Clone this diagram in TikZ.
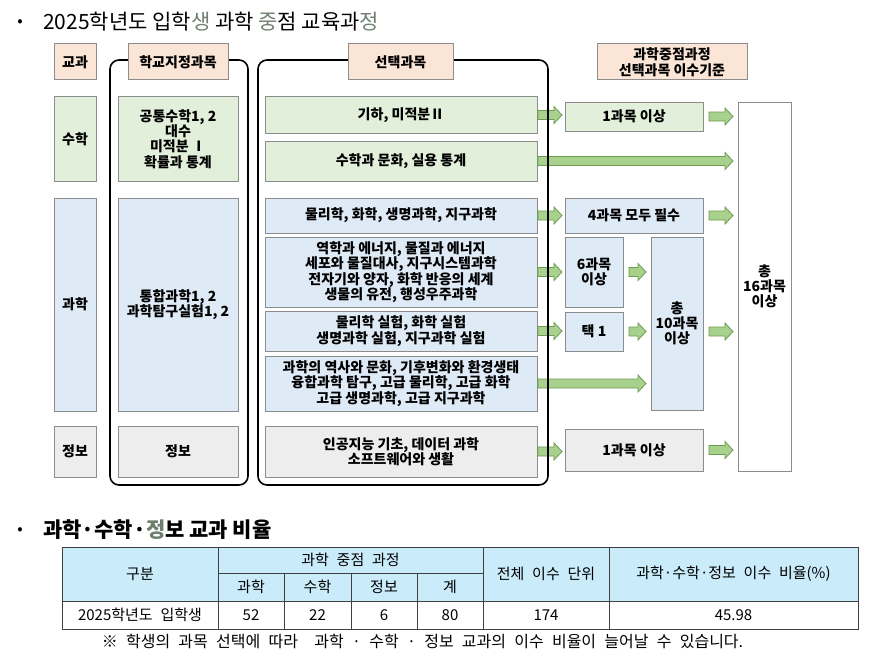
\documentclass[tikz,border=0pt]{standalone}
\usepackage{fontspec}
\setmainfont{Noto Sans CJK KR}
\newfontfamily\tblfont[WordSpace=2]{Noto Sans CJK KR}
\newfontfamily\notefont[WordSpace=2.3]{Noto Sans CJK KR}
\usetikzlibrary{calc}

\definecolor{hdrpeach}{HTML}{FBE5D6}
\definecolor{mathgreen}{HTML}{E2EFDA}
\definecolor{sciblue}{HTML}{DEEBF7}
\definecolor{infogray}{HTML}{EDEDED}
\definecolor{boxline}{HTML}{8C8C8C}
\definecolor{arrfill}{HTML}{A9D18E}
\definecolor{arrline}{HTML}{6E9B4E}
\definecolor{tblcyan}{HTML}{C9EBFA}
\definecolor{tblline}{HTML}{404040}
\definecolor{fadedtxt}{HTML}{6F7F6F}

% green block arrow, height taken from the start point
\newcommand{\grarrow}[2]{%
  \filldraw[grarrow] let \p1=(#1), \p2=(#2) in
    (\x1,\y1+4.5pt) -- (\x2-8pt,\y1+4.5pt) -- (\x2-8pt,\y1+8.5pt) -- (\x2,\y1)
    -- (\x2-8pt,\y1-8.5pt) -- (\x2-8pt,\y1-4.5pt) -- (\x1,\y1-4.5pt) -- cycle;}

\begin{document}
\begin{tikzpicture}[
    x=1pt, y=-1pt,
    font=\bfseries\fontsize{14}{15.3}\selectfont,
    box/.style={draw=boxline, line width=1pt, align=center, inner sep=1pt, outer sep=0pt},
    hdr/.style={box, fill=hdrpeach},
    mbox/.style={box, fill=mathgreen},
    sbox/.style={box, fill=sciblue},
    ibox/.style={box, fill=infogray},
    tbox/.style={box, fill=white},
    grarrow/.style={fill=arrfill, draw=arrline, line width=0.8pt},
    grpframe/.style={line width=1.6pt, rounded corners=9pt},
    cell/.style={font=\tblfont\fontsize{15}{16}\selectfont, inner sep=0pt},
    ttl/.style={anchor=west, inner sep=0pt}]

  \useasboundingbox (0,0) rectangle (884,669);

  %% ============================== titles ==================================
  \node[font=\fontsize{16}{18}\selectfont] (bul1) at (20,23) {•};
  \node[ttl, font=\fontsize{21}{24}\selectfont] (title1) at (43,22)
    {2025학년도 입학\textcolor{fadedtxt}{생} 과학 \textcolor{fadedtxt}{중}점 교육과\textcolor{fadedtxt}{정}};

  %% ============================== 교과 ====================================
  \node[mbox, minimum width=42, minimum height=84]  (smath) at (75,139)   {수학};
  \node[sbox, minimum width=42, minimum height=213] (ssci)  at (75,304.5) {과학};
  \node[ibox, minimum width=42, minimum height=51]  (sinfo) at (75,451.5) {정보};

  %% ============================== 학교지정과목 ============================
  \node[mbox, minimum width=120, minimum height=84]  (dmath) at (178,139)
    {공통수학1, 2\\대수\\미적분 Ⅰ\\확률과 통계};
  \node[sbox, minimum width=120, minimum height=213] (dsci)  at (178,304.5)
    {통합과학1, 2\\과학탐구실험1, 2};
  \node[ibox, minimum width=120, minimum height=51]  (dinfo) at (178,451.5) {정보};

  %% ============================== 선택과목 ================================
  \node[mbox, minimum width=272, minimum height=36] (geo)  at (401,115)   {기하, 미적분Ⅱ};
  \node[mbox, minimum width=272, minimum height=40] (cult) at (401,161)   {수학과 문화, 실용 통계};
  \node[sbox, minimum width=272, minimum height=35] (core) at (401,215.5) {물리학, 화학, 생명과학, 지구과학};
  \node[sbox, minimum width=272, minimum height=70] (adv)  at (401,272)
    {역학과 에너지, 물질과 에너지\\세포와 물질대사, 지구시스템과학\\전자기와 양자, 화학 반응의 세계\\생물의 유전, 행성우주과학};
  \node[sbox, minimum width=272, minimum height=40] (lab)  at (401,331)
    {물리학 실험, 화학 실험\\생명과학 실험, 지구과학 실험};
  \node[sbox, minimum width=272, minimum height=55] (conv) at (401,383.5)
    {과학의 역사와 문화, 기후변화와 환경생태\\융합과학 탐구, 고급 물리학, 고급 화학\\고급 생명과학, 고급 지구과학};
  \node[ibox, minimum width=272, minimum height=51] (ai)   at (401,451.5)
    {인공지능 기초, 데이터 과학\\소프트웨어와 생활};

  %% ============================== 이수기준 ================================
  \node[mbox, minimum width=138, minimum height=29]  (mone) at (634,116.5) {1과목 이상};
  \node[sbox, minimum width=138, minimum height=35]  (four) at (634,215.5) {4과목 모두 필수};
  \node[sbox, minimum width=58,  minimum height=70]  (six)  at (594,272)   {6과목\\이상};
  \node[sbox, minimum width=58,  minimum height=39]  (taek) at (594,331.5) {택 1};
  \node[sbox, minimum width=52,  minimum height=173] (ten)  at (677,323.5) {총\\10과목\\이상};
  \node[ibox, minimum width=138, minimum height=42]  (ione) at (634,450)   {1과목 이상};
  \node[tbox, minimum width=53,  minimum height=369] (total) at (764.5,286.5) {총\\16과목\\이상};
  \coordinate (tenout) at (ten.east |- taek.center);

  %% ============================== arrows ==================================
  \foreach \a/\b in {geo/mone, core/four, adv/six, lab/taek, ai/ione}
    \grarrow{[xshift=1pt]\a.east}{[xshift=-3pt]\b.west};
  \foreach \a in {mone, four, ione}
    \grarrow{[xshift=6pt]\a.east}{[xshift=-5pt]total.west};
  \grarrow{[xshift=6pt]tenout}{[xshift=-5pt]total.west};
  \foreach \a in {six, taek}
    \grarrow{[xshift=6pt]\a.east}{[xshift=-5pt]ten.west};
  \grarrow{[xshift=1pt]cult.east}{[xshift=-5pt]total.west};
  \grarrow{[xshift=1pt]conv.east}{[xshift=-5pt]ten.west};

  %% ============================== frames + headers ========================
  \draw[grpframe] (110,60) rectangle (248,485);
  \draw[grpframe] (258,60) rectangle (548,485);

  \node[hdr, minimum width=42,  minimum height=36] (hsubj)   at (75,62)    {교과};
  \node[hdr, minimum width=100, minimum height=36] (hschool) at (178,62)   {학교지정과목};
  \node[hdr, minimum width=105, minimum height=36] (hchoice) at (400.5,62) {선택과목};
  \node[hdr, minimum width=150, minimum height=36, font=\bfseries\fontsize{14}{16.5}\selectfont]
    (hcrit) at (672,62) {과학중점과정\\선택과목 이수기준};

  %% ============================== table ===================================
  \node[font=\fontsize{16}{18}\selectfont] (bul2) at (20,531) {•};
  \node[ttl, font=\bfseries\fontsize{21}{24}\selectfont] (title2) at (43,530)
    {과학·수학·\textcolor{fadedtxt}{정}보 교과 비율};

  \fill[tblcyan] (62,547) rectangle (858,601);
  \begin{scope}[draw=tblline, line width=0.9pt]
    \draw (62,547) rectangle (858,629);
    \draw (62,601) -- (858,601);
    \draw (218,573) -- (483,573);
    \foreach \x in {218,483,609}
      \draw (\x,547) -- (\x,629);
    \foreach \x in {284,351,417}
      \draw (\x,573) -- (\x,629);
  \end{scope}

  \node[cell] (hgubun) at (140,574)   {구분};
  \node[cell] (htrack) at (350.5,560) {과학 중점 과정};
  \node[cell] (hunits) at (546,574)   {전체 이수 단위};
  \node[cell] (hratio) at (733.5,574) {과학·수학·정보 이수 비율(\%)};
  \foreach \n/\x/\t in {sci/251/과학, math/317.5/수학, info/384/정보, sum/450/계}
    \node[cell] (h\n) at (\x,587) {\t};
  \node[cell] (vyear) at (140,615) {2025학년도 입학생};
  \foreach \n/\x/\v in {sci/251/52, math/317.5/22, info/384/6, sum/450/80, units/546/174, ratio/733.5/45.98}
    \node[cell] (v\n) at (\x,615) {\v};

  \node[cell, font=\notefont\fontsize{16}{17}\selectfont] (note) at (422.5,641)
    {※ 학생의 과목 선택에 따라~ 과학 · 수학 · 정보 교과의 이수 비율이 늘어날 수 있습니다.};

\end{tikzpicture}
\end{document}
